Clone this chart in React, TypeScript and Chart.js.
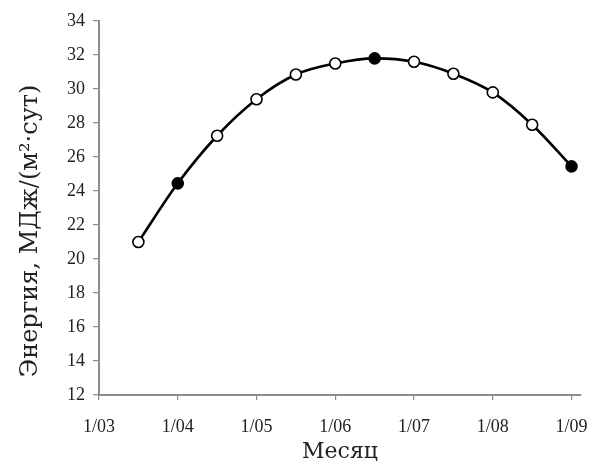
import React, { useEffect, useRef } from "react";
import { Chart, registerables } from "chart.js";

Chart.register(...registerables);

// month tick labels (month index 0..6 = 1 March .. 1 September)
const monthTicks = [0, 1, 2, 3, 4, 5, 6];
const monthLabels = ["1/03", "1/04", "1/05", "1/06", "1/07", "1/08", "1/09"];

// observation dates as month index (15/03, 1/04, 15/04, ... 1/09)
const pointMonths = [0.5, 1, 1.5, 2, 2.5, 3, 3.5, 4, 4.5, 5, 5.5, 6];
// energy, MJ/(m2·day)
const energyValues = [21.0, 24.45, 27.25, 29.4, 30.85, 31.5, 31.8, 31.6, 30.9, 29.8, 27.9, 25.45];
// which points are drawn filled
const filledPoints = [false, true, false, false, false, false, true, false, false, false, false, true];

const yTitle = "Энергия, МДж/(м²·сут)";
const xTitle = "Месяц";

export default function App() {
  const ref = useRef<HTMLCanvasElement | null>(null);

  useEffect(() => {
    document.body.style.margin = "0";
    const canvas = ref.current;
    if (!canvas) return;
    const axisColor = "#8c8c8c";
    const chart = new Chart(canvas, {
      type: "line",
      data: {
        datasets: [
          {
            data: pointMonths.map((x, i) => ({ x, y: energyValues[i] })),
            borderColor: "#000",
            borderWidth: 2.6,
            tension: 0.4,
            cubicInterpolationMode: "monotone",
            pointRadius: 5.5,
            pointBorderWidth: 1.6,
            pointBorderColor: "#000",
            pointBackgroundColor: filledPoints.map((f) => (f ? "#000" : "#fff")),
          },
        ],
      },
      options: {
        responsive: false,
        animation: false,
        layout: { padding: { top: 21, right: 12, left: 0, bottom: 0 } },
        plugins: { legend: { display: false }, tooltip: { enabled: false } },
        scales: {
          x: {
            type: "linear",
            min: 0,
            max: 6.12,
            afterBuildTicks: (axis: any) => {
              axis.ticks = monthTicks.map((v) => ({ value: v }));
            },
            afterFit: (axis: any) => {
              axis.height = 70;
              axis.paddingLeft = 0;
              axis.paddingRight = 0;
            },
            ticks: {
              autoSkip: false,
              maxRotation: 0,
              padding: 16,
              color: "#222",
              font: { family: "'Liberation Serif', serif", size: 18 },
              callback: (v: any) => {
                const i = monthTicks.indexOf(Number(v));
                return i >= 0 ? monthLabels[i] : "";
              },
            },
            grid: {
              display: true,
              drawOnChartArea: false,
              drawTicks: true,
              tickLength: 5,
              color: axisColor,
              lineWidth: 1.2,
            },
            border: { display: true, color: axisColor, width: 2 },
            title: {
              display: true,
              text: xTitle,
              color: "#222",
              font: { family: "'DejaVu Serif', serif", size: 22 },
              padding: { top: 0, bottom: 0 },
            },
          },
          y: {
            min: 12,
            max: 34,
            afterFit: (axis: any) => {
              axis.width = 99;
              axis.paddingTop = 0;
              axis.paddingBottom = 0;
            },
            ticks: {
              stepSize: 2,
              padding: 8,
              color: "#222",
              font: { family: "'Liberation Serif', serif", size: 18 },
            },
            grid: {
              display: true,
              drawOnChartArea: false,
              drawTicks: true,
              tickLength: 6,
              color: axisColor,
              lineWidth: 1.2,
            },
            border: { display: true, color: axisColor, width: 2 },
            title: {
              display: true,
              text: yTitle + "      ",
              color: "#222",
              font: { family: "'DejaVu Serif', serif", size: 24 },
              padding: { top: 16, bottom: 0 },
            },
          },
        },
      },
    });
    return () => chart.destroy();
  }, []);

  return <canvas ref={ref} width={593} height={465} style={{ display: "block" }} />;
}
